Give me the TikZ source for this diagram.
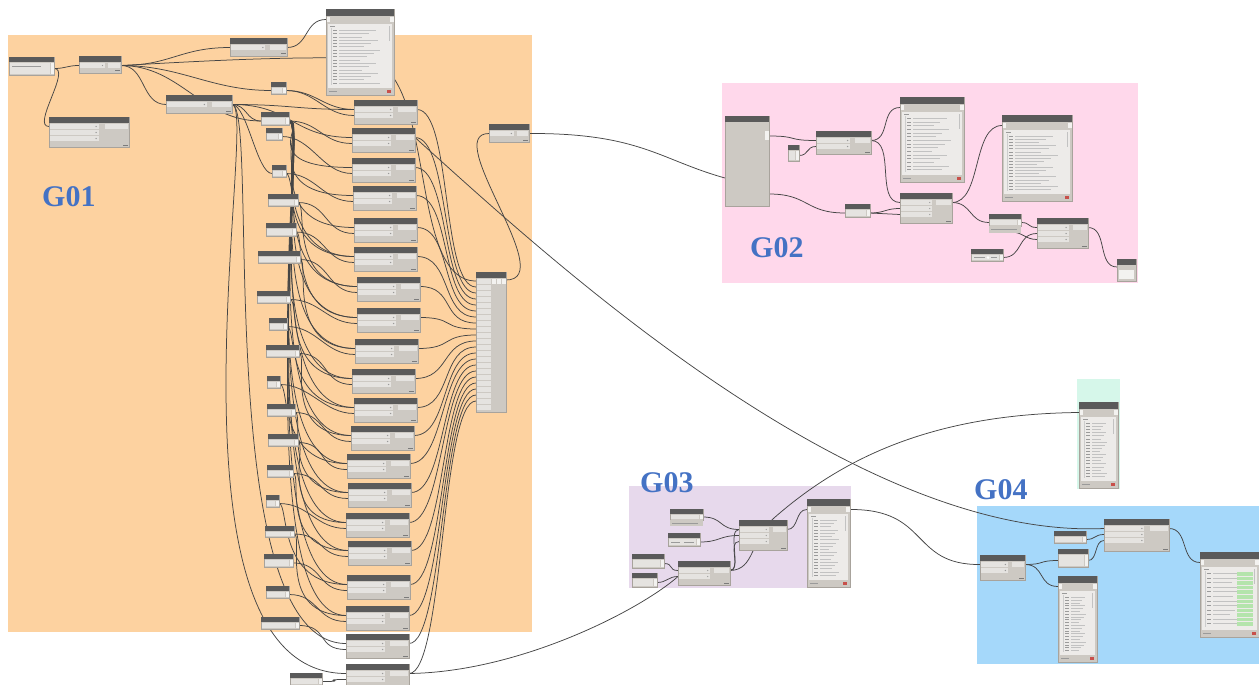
\documentclass[tikz,border=0pt]{standalone}
\usepackage{fontspec}
\setmainfont{Liberation Serif}
\definecolor{grpA}{HTML}{FDD2A0}
\definecolor{grpB}{HTML}{FFD8EB}
\definecolor{grpC}{HTML}{E7D9EC}
\definecolor{grpD}{HTML}{D6F7EA}
\definecolor{grpE}{HTML}{A5D8FA}
\definecolor{grplabel}{HTML}{4472C4}
\definecolor{hdr}{HTML}{5A5A5A}
\definecolor{bodyc}{HTML}{CDC9C3}
\definecolor{fieldc}{HTML}{E5E3E0}
\definecolor{portc}{HTML}{F3F2F0}
\definecolor{edgec}{HTML}{A8A39C}
\definecolor{wirec}{HTML}{454545}
\definecolor{txtc}{HTML}{9A9A9A}
\definecolor{okgreen}{HTML}{B4E4AC}
\definecolor{errred}{HTML}{C8504B}
\pgfdeclarelayer{groups}
\pgfdeclarelayer{wires}
\pgfsetlayers{groups,wires,main}
\tikzset{
  nodebody/.style={rectangle, inner sep=0pt, outer sep=0pt, fill=bodyc, draw=edgec, line width=0.5pt, anchor=north west},
  grplbl/.style={text=grplabel, font=\fontsize{30}{30}\selectfont\bfseries, inner sep=0pt, anchor=base west},
  wire/.style={draw=wirec, line width=0.75pt},
  wb/.style={to path={.. controls +(#1,0) and +(-#1,0) .. (\tikztotarget)}},
  wb/.default=30,
}
% node with header, input rows and one output: name, x, y, width, height, rows
\newcommand\dynnode[6]{%
  \node[nodebody, minimum width={(#4)*1pt}, minimum height={(#5)*1pt}] (#1) at (#2,#3) {};
  \fill[hdr] (#1.north west) rectangle ([yshift=-6pt]#1.north east);
  \fill[fieldc] ([xshift={(#4)*0.7pt},yshift=-7pt]#1.north west) rectangle ([xshift=-1pt,yshift=-12pt]#1.north east);
  \foreach \k in {1,...,#6} {
    \fill[fieldc] ([xshift=0.5pt,yshift={(-7-6*(\k-1))*1pt}]#1.north west) rectangle ([xshift={(#4)*0.62pt},yshift={(-12-6*(\k-1))*1pt}]#1.north west);
    \fill[txtc] ([xshift={((#4)*0.62-2.5)*1pt},yshift={(-9.5-6*(\k-1))*1pt}]#1.north west) circle (0.7pt);
    \coordinate (#1-i\k) at ([yshift={(-9.5-6*(\k-1))*1pt}]#1.north west);
  }
  \coordinate (#1-o) at ([yshift=-9.5pt]#1.north east);
  \fill[hdr!80] ([xshift=-6pt,yshift=2.5pt]#1.south east) rectangle ([xshift=-1.5pt,yshift=1.5pt]#1.south east);
}
% small input node: name, x, y, width, height
\newcommand\dynsmall[5]{%
  \node[nodebody, minimum width={(#4)*1pt}, minimum height={(#5)*1pt}] (#1) at (#2,#3) {};
  \fill[hdr] (#1.north west) rectangle ([yshift=-5pt]#1.north east);
  \fill[fieldc] ([xshift=1pt,yshift=-6pt]#1.north west) rectangle ([xshift=-4pt,yshift=1pt]#1.south east);
  \fill[portc] ([xshift=-3.5pt,yshift=-6pt]#1.north east) rectangle ([xshift=-0.5pt,yshift=1pt]#1.south east);
  \coordinate (#1-o) at ([yshift={(-5-((#5)-5)/2)*1pt}]#1.north east);
  \coordinate (#1-i) at ([yshift={(-5-((#5)-5)/2)*1pt}]#1.north west);
}
% watch node with a list preview: name, x, y, width, height, rows
\newcommand\dynwatch[6]{%
  \node[nodebody, minimum width={(#4)*1pt}, minimum height={(#5)*1pt}] (#1) at (#2,#3) {};
  \fill[hdr] (#1.north west) rectangle ([yshift=-7pt]#1.north east);
  \fill[portc] ([xshift=0.5pt,yshift=-8pt]#1.north west) rectangle ([xshift=4pt,yshift=-13pt]#1.north west);
  \fill[portc] ([xshift=-4pt,yshift=-8pt]#1.north east) rectangle ([xshift=-0.5pt,yshift=-13pt]#1.north east);
  \fill[fieldc!70!white] ([xshift=2pt,yshift=-15pt]#1.north west) rectangle ([xshift=-2pt,yshift=7pt]#1.south east);
  \fill[txtc!60] ([xshift=-5pt,yshift=-17pt]#1.north east) rectangle ([xshift=-3.8pt,yshift=-32pt]#1.north east);
  \fill[txtc] ([xshift=4pt,yshift=-17pt]#1.north west) rectangle ([xshift=9pt,yshift=-18pt]#1.north west);
  \draw[txtc!50, line width=0.3pt] ([xshift=5pt,yshift=-19pt]#1.north west) -- ([xshift=5pt,yshift=10pt]#1.south west);
  \foreach \k in {1,...,#6} {
    \pgfmathsetmacro\rowy{-21-((#5)-30)*(\k-1)/(#6)}
    \pgfmathsetmacro\roww{((#4)-22)*(0.45+0.5*mod(\k*7,10)/10)}
    \fill[txtc] ([xshift=7pt,yshift=\rowy pt]#1.north west) rectangle ([xshift=11pt,yshift={(\rowy-1)*1pt}]#1.north west);
    \fill[txtc!60] ([xshift=13pt,yshift=\rowy pt]#1.north west) rectangle ([xshift={(13+\roww)*1pt},yshift={(\rowy-0.9)*1pt}]#1.north west);
  }
  \fill[txtc] ([xshift=3pt,yshift=3pt]#1.south west) rectangle ([xshift=11pt,yshift=4pt]#1.south west);
  \fill[errred] ([xshift=-7pt,yshift=2.4pt]#1.south east) rectangle ([xshift=-3pt,yshift=4.6pt]#1.south east);
  \coordinate (#1-i) at ([yshift=-10.5pt]#1.north west);
  \coordinate (#1-o) at ([yshift=-10.5pt]#1.north east);
}
\begin{document}
\begin{tikzpicture}[x=1pt,y=-1pt]
\useasboundingbox (0,0) rectangle (1259,685);

% ---------- group backgrounds ----------
\begin{pgfonlayer}{groups}
  \fill[grpA] (8,35) rectangle (532,632);
  \fill[grpB] (722,83) rectangle (1138,283);
  \fill[grpC] (629,486) rectangle (851,588);
  \fill[grpD] (1077,379) rectangle (1120,489);
  \fill[grpE] (977,506) rectangle (1259,664);
\end{pgfonlayer}
\node[grplbl] (lblA) at (42,206) {G01};
\node[grplbl] (lblB) at (750,257) {G02};
\node[grplbl] (lblC) at (640,492) {G03};
\node[grplbl] (lblD) at (974,499) {G04};

% ---------- G01 ----------
\dynsmall{A}{9}{57}{45}{18}
\fill[txtc] ([xshift=3pt,yshift=-9pt]A.north west) rectangle ([xshift=32pt,yshift=-10pt]A.north west);
\dynnode{B}{79}{56}{42}{17}{1}
\dynnode{C}{49}{117}{80}{30}{3}
\dynnode{D}{230}{38}{57}{18}{1}
\dynwatch{E}{326}{9}{68}{86}{17}
\dynnode{G}{166}{95}{66}{18}{1}
\dynnode{J}{489}{124}{40}{18}{1}

\foreach \n/\x/\y/\w/\h in {1/271/82/15/12, 2/261/112/28/13, 3/266/128/16/12, 4/272/165/14/12,
  5/268/194/30/12, 6/266/223/30/13, 7/258/251/42/12, 8/257/291/33/12, 9/269/318/18/12,
  10/266/345/33/12, 11/267/376/13/12, 12/267/404/28/12, 13/268/434/30/12, 14/267/465/26/12,
  15/266/495/13/12, 16/265/526/29/11, 17/264/554/29/13, 18/266/586/23/12, 19/261/617/38/12,
  20/290/673/32/12}
  {\dynsmall{k\n}{\x}{\y}{\w}{\h}}

\foreach \n/\x/\y in {1/354/100, 2/352/128, 3/352/158, 4/353/186, 5/354/218, 6/354/247,
  7/357/277, 8/357/308, 9/355/339, 10/352/369, 11/354/398, 12/351/426, 13/347/454,
  14/348/483, 15/346/513, 16/348/541, 17/347/575, 18/346/606, 19/346/634, 20/346/664}
  {\dynnode{c\n}{\x}{\y}{63}{24}{2}}

% list builder with many inputs
\node[nodebody, minimum width=30pt, minimum height=140pt] (L) at (476,272) {};
\fill[hdr] (L.north west) rectangle ([yshift=-6pt]L.north east);
\foreach \k in {1,...,22} {
  \fill[fieldc] ([xshift=0.5pt,yshift={(-7-6*(\k-1))*1pt}]L.north west) rectangle ([xshift=15pt,yshift={(-11.5-6*(\k-1))*1pt}]L.north west);
  \coordinate (L-p\k) at ([yshift={(-9-6*(\k-1))*1pt}]L.north west);
}
\foreach \s in {0,5,10} \fill[portc] ([xshift={(-14+\s)*1pt},yshift=-7pt]L.north east) rectangle ([xshift={(-10+\s)*1pt},yshift=-12pt]L.north east);
\coordinate (L-o) at ([yshift=-8pt]L.north east);

% ---------- G02 ----------
\node[nodebody, minimum width=44pt, minimum height=90pt] (M1) at (725,116) {};
\fill[hdr] (M1.north west) rectangle ([yshift=-6pt]M1.north east);
\fill[portc] ([xshift=-4pt,yshift=-15pt]M1.north east) rectangle ([xshift=-0.5pt,yshift=-24pt]M1.north east);
\coordinate (M1-o1) at ([yshift=-20pt]M1.north east);
\coordinate (M1-o2) at ([yshift=-78pt]M1.north east);
\coordinate (M1-i) at ([yshift=-62pt]M1.north west);
\dynsmall{M2}{788}{145}{11}{16}
\dynnode{M3}{816}{131}{55}{23}{2}
\dynwatch{M4}{900}{97}{64}{85}{15}
\dynsmall{M5}{845}{204}{25}{13}
\dynnode{M6}{900}{193}{52}{30}{3}
\dynwatch{M7}{1002}{115}{70}{86}{18}
\dynsmall{M8}{989}{214}{32}{12}
\fill[bodyc] ([yshift=-0.3pt]M8.south west) rectangle ([yshift=-7pt]M8.south east);
\fill[txtc] ([xshift=2pt,yshift=-3pt]M8.south west) rectangle ([xshift=28pt,yshift=-4pt]M8.south west);
\dynnode{M9}{1037}{218}{51}{30}{3}
\dynsmall{M10}{971}{249}{32}{12}
\fill[txtc] ([xshift=3pt,yshift=-8pt]M10.north west) rectangle ([xshift=14pt,yshift=-9pt]M10.north west);
\fill[white] ([xshift=17pt,yshift=-8.6pt]M10.north west) circle (1.4pt);
\fill[txtc] ([xshift=20pt,yshift=-8pt]M10.north west) rectangle ([xshift=26pt,yshift=-9pt]M10.north west);
\node[nodebody, minimum width=19pt, minimum height=22pt] (M11) at (1117,259) {};
\fill[hdr] (M11.north west) rectangle ([yshift=-6pt]M11.north east);
\fill[portc] ([xshift=2pt,yshift=-11pt]M11.north west) rectangle ([xshift=-2pt,yshift=2pt]M11.south east);
\coordinate (M11-i) at ([yshift=-8pt]M11.north west);

% ---------- G03 ----------
\dynsmall{N1}{670}{509}{33}{11}
\fill[bodyc] ([yshift=-0.3pt]N1.south west) rectangle ([yshift=-6pt]N1.south east);
\fill[txtc] ([xshift=2pt,yshift=-2.5pt]N1.south west) rectangle ([xshift=28pt,yshift=-3.5pt]N1.south west);
\dynsmall{N2}{668}{533}{32}{13}
\fill[txtc] ([xshift=3pt,yshift=-9pt]N2.north west) rectangle ([xshift=12pt,yshift=-10pt]N2.north west);
\fill[txtc] ([xshift=16pt,yshift=-9pt]N2.north west) rectangle ([xshift=26pt,yshift=-10pt]N2.north west);
\dynsmall{N3}{632}{554}{32}{14}
\dynsmall{N4}{632}{573}{25}{14}
\dynnode{N5}{678}{561}{52}{24}{2}
\dynnode{N6}{739}{520}{48}{30}{3}
\dynwatch{N7}{807}{499}{43}{88}{18}

% ---------- watch in the green group ----------
\dynwatch{W1}{1079}{402}{39}{86}{18}

% ---------- G04 ----------
\dynnode{P1}{1104}{519}{65}{32}{3}
\dynsmall{P2}{1054}{531}{32}{12}
\dynsmall{P3}{1058}{549}{30}{18}
\dynnode{P4}{980}{555}{45}{25}{2}
\dynwatch{P5}{1058}{576}{39}{86}{20}
\dynwatch{P6}{1200}{552}{59}{85}{12}
\foreach \k in {1,...,12} {
  \pgfmathsetmacro\rowy{-20-55*(\k-1)/12}
  \fill[okgreen] ([xshift=37pt,yshift=\rowy pt]P6.north west) rectangle ([xshift=53pt,yshift={(\rowy-3.6)*1pt}]P6.north west);
}

% ---------- wires ----------
\begin{pgfonlayer}{wires}
  % G01
  \draw[wire] (A-o) to[wb=12] (B-i1);
  \draw[wire] (A-o) .. controls +(18,0) and +(-18,0) .. (C-i1);
  \draw[wire] (B-o) to[wb=50] (D-i1);
  \draw[wire] (B-o) to[wb=60] (k1-i);
  \draw[wire] (B-o) to[wb=25] (G-i1);
  \draw[wire] (B-o) to[wb=60] (k2-i);
  \draw[wire] (B-o) .. controls (220,60) and (280,57) .. (360,58) .. controls (440,59) and (405,281) .. (L-p1);
  \draw[wire] (D-o) to[wb=22] (E-i);
  \draw[wire] (G-o) to[wb=15] (k2-i);
  \draw[wire] (G-o) .. controls +(15,0) and +(-15,0) .. (k4-i);
  \draw[wire] (G-o) to[wb=60] (c1-i1);
  \draw[wire] (G-o) to[wb=60] (c2-i1);
  \draw[wire] (k1-o) to[wb=30] (c1-i1);
  \draw[wire] (k1-o) to[wb=30] (c1-i2);
  \foreach \n in {2,...,20} \draw[wire] (k\n-o) to[wb=30] (c\n-i2);
  \foreach \n in {3,...,18} \draw[wire] (k2-o) .. controls +(20,0) and +(-100,0) .. (c\n-i1);
  \foreach \n in {4,...,16} \draw[wire] (k\n-o) .. controls +(10,0) and +(-70,0) .. (c\the\numexpr\n+2\relax-i1);
  \draw[wire] (G-o) .. controls +(28,0) and +(-136,0) .. (c19-i1);
  \draw[wire] (G-o) .. controls +(28,0) and +(-196,0) .. (c20-i1);
  \foreach \n in {1,...,20} \draw[wire] (c\n-o) to[wb=35] (L-p\the\numexpr\n+1\relax);
  \draw[wire] (L-o) .. controls (560,280) and (440,133.5) .. (J-i1);
  % G01 to the other groups
  \draw[wire] (J-o) .. controls (640,133) and (660,160) .. (M1-i);
  \draw[wire] (c2-o) .. controls (540,250) and (850,540) .. (P1-i1);
  \draw[wire] (c20-o) .. controls (520,672) and (640,610) .. (N5-i2);
  % G02
  \draw[wire] (M1-o1) to[wb=30] (M3-i1);
  \draw[wire] (M2-o) to[wb=10] (M3-i2);
  \draw[wire] (M3-o) to[wb=20] (M4-i);
  \draw[wire] (M3-o) to[wb=25] (M6-i1);
  \draw[wire] (M1-o2) to[wb=40] (M5-i);
  \draw[wire] (M5-o) to[wb=15] (M6-i2);
  \draw[wire] (M5-o) to[wb=15] (M6-i3);
  \draw[wire] (M6-o) to[wb=30] (M7-i);
  \draw[wire] (M6-o) to[wb=20] (M8-i);
  \draw[wire] (M8-o) to[wb=10] (M9-i1);
  \draw[wire] ([xshift=-10pt,yshift=-6pt]M8.south east) to[wb=12] (M9-i3);
  \draw[wire] (M10-o) to[wb=20] (M9-i2);
  \draw[wire] (M9-o) to[wb=20] (M11-i);
  % G03
  \draw[wire] (N1-o) to[wb=20] (N6-i1);
  \draw[wire] (N2-o) to[wb=20] (N6-i2);
  \draw[wire] (N3-o) to[wb=10] (N5-i1);
  \draw[wire] (N4-o) to[wb=10] (N5-i2);
  \draw[wire] (N5-o) to[wb=12] (N6-i3);
  \draw[wire] (N5-o) to[wb=12] (N6-i1);
  \draw[wire] (N6-o) to[wb=12] (N7-i);
  \draw[wire] (N5-o) .. controls (755,570) and (750,540) .. (774,518) .. controls (840,460) and (930,414) .. (W1-i);
  \draw[wire] (N7-o) .. controls (930,509) and (910,565) .. (P4-i1);
  % G04
  \draw[wire] (P2-o) to[wb=10] (P1-i2);
  \draw[wire] (P3-o) to[wb=10] (P1-i3);
  \draw[wire] (P4-o) to[wb=20] (P3-i);
  \draw[wire] (P4-o) to[wb=20] (P5-i);
  \draw[wire] (P1-o) to[wb=20] (P6-i);
\end{pgfonlayer}
\end{tikzpicture}
\end{document}
